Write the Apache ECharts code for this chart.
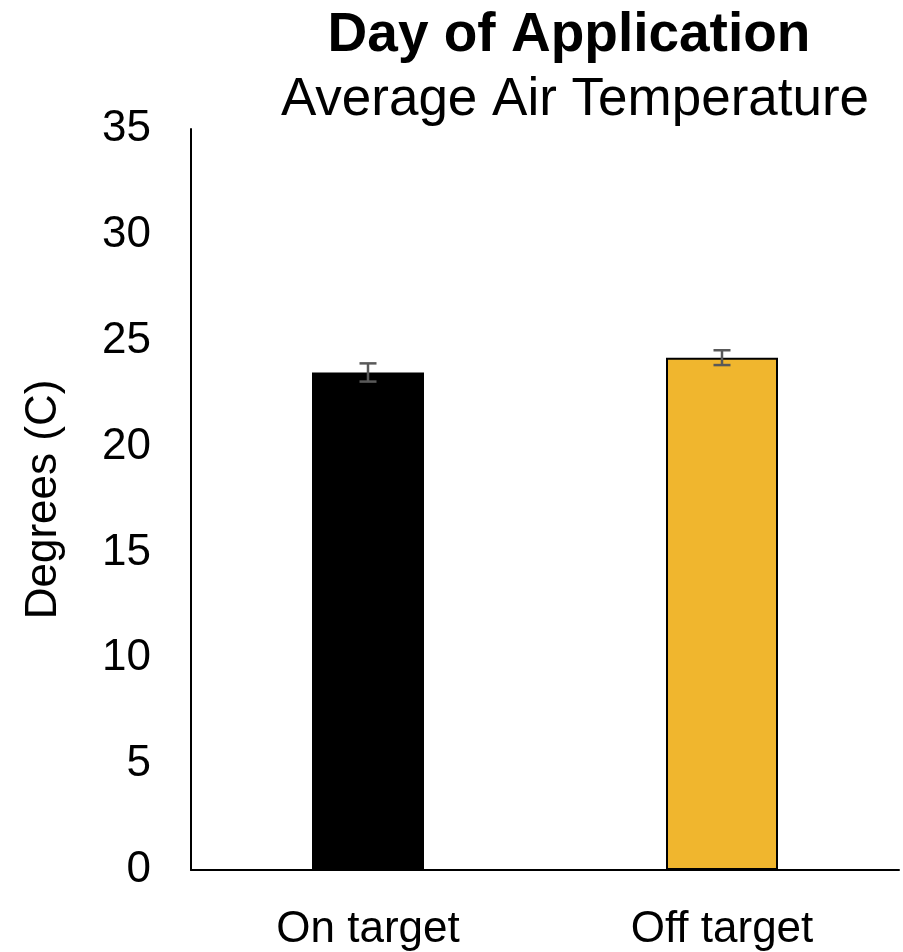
<!DOCTYPE html>
<html>
<head>
<meta charset="utf-8">
<script src="https://cdn.jsdelivr.net/npm/echarts@6/dist/echarts.min.js"></script>
<style>html,body{margin:0;padding:0;background:#fff;}#c{width:903px;height:952px;}</style>
</head>
<body>
<div id="c"></div>
<script>
const categories = ["On target", "Off target"];
const values = [23.5, 24.2];
const errors = [0.43, 0.35];
const barColors = ["#000000", "#F0B62E"];
const yTicks = [0, 5, 10, 15, 20, 25, 30, 35];

const chart = echarts.init(document.getElementById('c'));
const font = 'Liberation Sans, Arial, sans-serif';
chart.setOption({
  animation: false,
  backgroundColor: '#ffffff',
  title: [
    { text: 'Day of Application', left: 564, top: 3, textAlign: 'center',
      textStyle: { fontFamily: font, fontSize: 55, fontWeight: 'bold', color: '#000' } },
    { text: 'Average Air Temperature', left: 570, top: 69, textAlign: 'center',
      textStyle: { fontFamily: font, fontSize: 53, fontWeight: 'normal', color: '#000' } }
  ],
  grid: { left: 191, right: 4, top: 129, bottom: 82, containLabel: false },
  xAxis: {
    type: 'category', data: categories,
    axisLine: { lineStyle: { color: '#000', width: 2 } },
    axisTick: { show: false },
    axisLabel: { fontFamily: font, fontSize: 44, color: '#000', margin: 38 }
  },
  yAxis: {
    type: 'value', min: 0, max: 35, interval: 5,
    name: 'Degrees (C)', nameLocation: 'middle', nameGap: 125, nameRotate: 90,
    nameTextStyle: { fontFamily: font, fontSize: 44, color: '#000' },
    axisLine: { show: true, lineStyle: { color: '#000', width: 2 } },
    axisTick: { show: false },
    splitLine: { show: false },
    axisLabel: { fontFamily: font, fontSize: 44, color: '#000', margin: 40,
      formatter: v => yTicks.includes(v) ? String(v) : '' }
  },
  series: [
    {
      type: 'bar', barWidth: 112,
      data: values.map((v, i) => ({
        value: v,
        itemStyle: { color: barColors[i], borderColor: '#000', borderWidth: i === 1 ? 2 : 0 }
      }))
    },
    {
      type: 'custom', z: 10,
      data: values.map((v, i) => [i, v - errors[i], v + errors[i]]),
      renderItem: function (params, api) {
        const lo = api.coord([api.value(0), api.value(1)]);
        const hi = api.coord([api.value(0), api.value(2)]);
        const hw = 8.5;
        const st = { stroke: '#595959', lineWidth: 2.5 };
        return { type: 'group', children: [
          { type: 'line', shape: { x1: lo[0], y1: lo[1], x2: hi[0], y2: hi[1] }, style: st },
          { type: 'line', shape: { x1: hi[0] - hw, y1: hi[1], x2: hi[0] + hw, y2: hi[1] }, style: st },
          { type: 'line', shape: { x1: lo[0] - hw, y1: lo[1], x2: lo[0] + hw, y2: lo[1] }, style: st }
        ]};
      }
    }
  ]
});
</script>
</body>
</html>
